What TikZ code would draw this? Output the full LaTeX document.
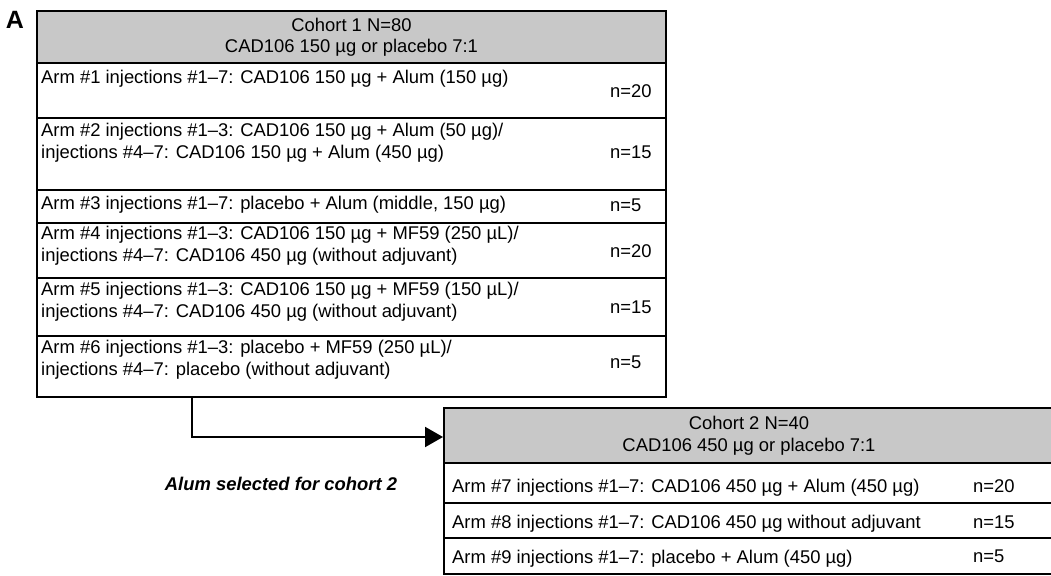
\documentclass[tikz,border=0pt]{standalone}
\usepackage{fontspec}
\setmainfont{Liberation Sans}
\usetikzlibrary{arrows.meta}
\definecolor{hdrgray}{RGB}{200,200,200}
\tikzset{
  box/.style={draw, line width=2pt, anchor=north west, inner sep=0pt},
  hdr/.style={box, fill=hdrgray, align=center},
  armtxt/.style={anchor=north west, inner sep=0pt, align=left},
  cnt/.style={anchor=west, inner sep=0pt},
  flow/.style={line width=2pt, -{Triangle[length=18pt, width=20pt]}},
  every node/.style={font=\fontsize{18.4}{21.5}\selectfont}
}
\begin{document}
\begin{tikzpicture}[x=1pt, y=-1pt]
  \useasboundingbox (0,0) rectangle (1051,575);
  \node[font=\fontsize{25}{28}\selectfont\bfseries] (lblA) at (15,20) {A};
  % cohort 1
  \node[hdr, minimum width=629pt, minimum height=52pt] (h1) at (36,10)
    {Cohort 1 N=80\\CAD106 150 µg or placebo 7:1};
  \node[box, minimum width=629pt, minimum height=55pt] (r1) at (36,62) {};
  \node[box, minimum width=629pt, minimum height=72pt] (r2) at (36,117) {};
  \node[box, minimum width=629pt, minimum height=33pt] (r3) at (36,189) {};
  \node[box, minimum width=629pt, minimum height=55pt] (r4) at (36,222) {};
  \node[box, minimum width=629pt, minimum height=58pt] (r5) at (36,277) {};
  \node[box, minimum width=629pt, minimum height=61pt] (r6) at (36,335) {};
  \node[armtxt] (a1) at (41,70) {Arm \#1 injections \#1–7: CAD106 150 µg + Alum (150 µg)};
  \node[armtxt] (a2) at (41,123) {Arm \#2 injections \#1–3: CAD106 150 µg + Alum (50 µg)/\\injections \#4–7: CAD106 150 µg + Alum (450 µg)};
  \node[armtxt] (a3) at (41,196) {Arm \#3 injections \#1–7: placebo + Alum (middle, 150 µg)};
  \node[armtxt] (a4) at (41,226) {Arm \#4 injections \#1–3: CAD106 150 µg + MF59 (250 µL)/\\injections \#4–7: CAD106 450 µg (without adjuvant)};
  \node[armtxt] (a5) at (41,282) {Arm \#5 injections \#1–3: CAD106 150 µg + MF59 (150 µL)/\\injections \#4–7: CAD106 450 µg (without adjuvant)};
  \node[armtxt] (a6) at (41,340) {Arm \#6 injections \#1–3: placebo + MF59 (250 µL)/\\injections \#4–7: placebo (without adjuvant)};
  \node[cnt] (n1) at (610,91) {n=20};
  \node[cnt] (n2) at (610,152.5) {n=15};
  \node[cnt] (n3) at (610,205) {n=5};
  \node[cnt] (n4) at (610,251) {n=20};
  \node[cnt] (n5) at (610,307.5) {n=15};
  \node[cnt] (n6) at (610,362.5) {n=5};
  % cohort 2
  \node[hdr, minimum width=610pt, minimum height=55pt] (h2) at (443,407)
    {Cohort 2 N=40\\CAD106 450 µg or placebo 7:1};
  \node[box, minimum width=610pt, minimum height=40pt] (r7) at (443,462) {};
  \node[box, minimum width=610pt, minimum height=35pt] (r8) at (443,502) {};
  \node[box, minimum width=610pt, minimum height=36pt] (r9) at (443,537) {};
  \node[armtxt] (a7) at (452,479) {Arm \#7 injections \#1–7: CAD106 450 µg + Alum (450 µg)};
  \node[armtxt] (a8) at (452,515) {Arm \#8 injections \#1–7: CAD106 450 µg without adjuvant};
  \node[armtxt] (a9) at (452,550) {Arm \#9 injections \#1–7: placebo + Alum (450 µg)};
  \node[cnt] (n7) at (973,486) {n=20};
  \node[cnt] (n8) at (973,522.5) {n=15};
  \node[cnt] (n9) at (973,556) {n=5};
  % selection
  \coordinate (bend) at (192,437);
  \draw[flow] (r6.south -| bend) -- (bend) -- (bend -| h2.west);
  \node[font=\fontsize{18.4}{21}\selectfont\bfseries\itshape] (sel) at (281,484) {Alum selected for cohort 2};
\end{tikzpicture}
\end{document}
